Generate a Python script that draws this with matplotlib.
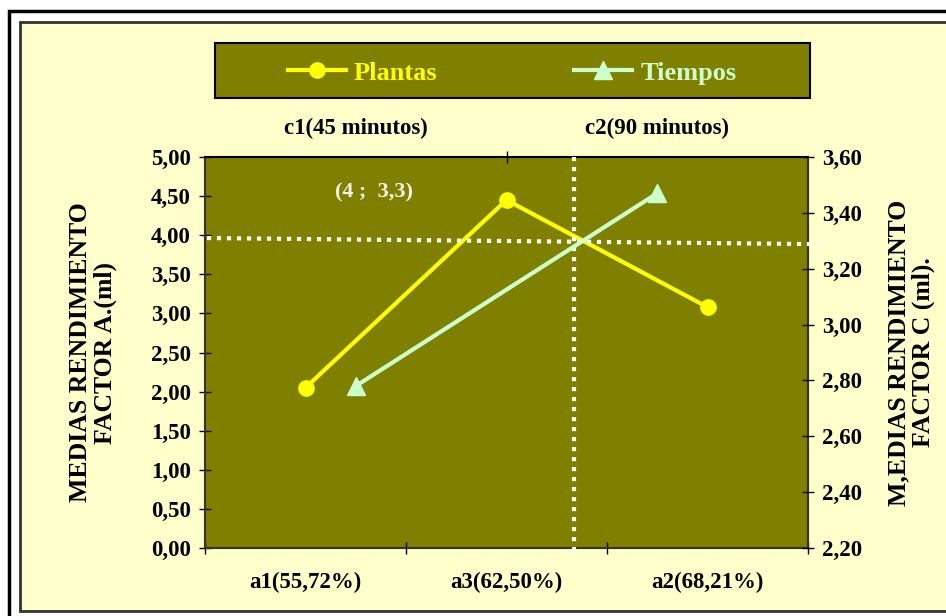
import matplotlib
matplotlib.use("Agg")
import matplotlib.pyplot as plt
from matplotlib.patches import Rectangle
from matplotlib.lines import Line2D
from matplotlib.ticker import FixedLocator, FuncFormatter

plt.rcParams["font.family"] = ["Liberation Serif", "DejaVu Serif"]
plt.rcParams["font.weight"] = "bold"
plt.rcParams["axes.labelweight"] = "bold"

# ---------- datos ----------
categorias_a = ["a1(55,72%)", "a3(62,50%)", "a2(68,21%)"]
plantas = [2.05, 4.45, 3.08]
categorias_c = ["c1(45 minutos)", "c2(90 minutos)"]
tiempos = [2.78, 3.47]
ticks_izq = [0, 0.5, 1, 1.5, 2, 2.5, 3, 3.5, 4, 4.5, 5]
ticks_der = [2.2, 2.4, 2.6, 2.8, 3.0, 3.2, 3.4, 3.6]
punto_corte = "(4 ;  3,3)"

OLIVA = "#808000"
FONDO = "#FFFFCC"
AMARILLO = "#FFFF00"
VERDE = "#CCFFCC"

W, H = 946, 616
fig = plt.figure(figsize=(W / 100, H / 100), dpi=100)
fig.patch.set_facecolor("white")


def box(x0, y0, x1, y1):
    # pixel box (top-left origin) -> figure fraction rect
    return [x0 / W, 1 - y1 / H, (x1 - x0) / W, (y1 - y0) / H]


def coma(v, p):
    return f"{v:.2f}".replace(".", ",")


# marcos exteriores
fig.patches.append(Rectangle((9 / W, -0.1), 1.2, 1 - 11 / H + 0.1, transform=fig.transFigure,
                             facecolor="white", edgecolor="black", lw=2.5, zorder=-3))
fig.patches.append(Rectangle((20 / W, 1 - 611 / H), 1.2, (611 - 22) / H, transform=fig.transFigure,
                             facecolor=FONDO, edgecolor="#333333", lw=2, zorder=-2))

# ejes principales (factor A)
ax = fig.add_axes(box(205, 157, 808, 548))
ax.set_facecolor(OLIVA)
x_a = list(range(len(categorias_a)))
ax.plot(x_a, plantas, color=AMARILLO, lw=3, marker="o", ms=11, zorder=3)
ax.set_xlim(-0.5, len(categorias_a) - 0.5)
ax.set_ylim(0, 5)
ax.yaxis.set_major_locator(FixedLocator(ticks_izq))
ax.yaxis.set_major_formatter(FuncFormatter(coma))
ax.set_xticks(x_a)
ax.set_xticklabels(categorias_a)
ax.set_xticks([i - 0.5 for i in range(len(categorias_a) + 1)], minor=True)
ax.tick_params(axis="x", which="major", length=0, pad=17, labelsize=16.5)
ax.tick_params(axis="x", which="minor", direction="inout", length=8, width=1)
ax.tick_params(axis="y", direction="inout", length=8, width=1, pad=6, labelsize=16.5)
for s in ax.spines.values():
    s.set_color("#333333")
    s.set_linewidth(1.5)
ax.spines["top"].set_color("black")
ax.set_ylabel("MEDIAS RENDIMIENTO\nFACTOR A.(ml)", fontsize=18.5, linespacing=1.1)
ax.yaxis.set_label_coords(-0.146, 0.5)

# ejes secundarios (factor C)
ax2 = fig.add_axes(box(205, 157, 808, 548), frameon=False)
ax2.patch.set_visible(False)
x_c = list(range(len(categorias_c)))
ax2.plot(x_c, tiempos, color=VERDE, lw=3, marker="^", ms=13, zorder=3)
ax2.set_xlim(-0.5, len(categorias_c) - 0.5)
ax2.set_ylim(2.2, 3.6)
ax2.xaxis.tick_top()
ax2.xaxis.set_label_position("top")
ax2.yaxis.tick_right()
ax2.yaxis.set_label_position("right")
ax2.yaxis.set_major_locator(FixedLocator(ticks_der))
ax2.yaxis.set_major_formatter(FuncFormatter(coma))
ax2.set_xticks(x_c)
ax2.set_xticklabels(categorias_c)
ax2.set_xticks([0.5], minor=True)
ax2.tick_params(axis="x", which="major", length=0, pad=13, labelsize=16.5)
ax2.tick_params(axis="x", which="minor", direction="inout", length=8, width=1)
ax2.tick_params(axis="y", direction="inout", length=8, width=1, pad=6, labelsize=16.5)
ax2.set_ylabel("M,EDIAS RENDIMIENTO\nFACTOR C (ml).", fontsize=18.5, linespacing=1.1, rotation=90)
ax2.yaxis.set_label_coords(1.131, 0.5)

# lineas punteadas de corte
ax.plot([-0.54, 2.575], [3.965, 3.885], color="white", lw=3, ls=(0, (1, 1.4)),
        solid_capstyle="butt", clip_on=False, zorder=5)
ax.plot([1.338, 1.338], [5.13, -0.05], color="white", lw=3, ls=(0, (1, 1.4)),
        solid_capstyle="butt", clip_on=False, zorder=5)
ax.text(0.34, 4.54, punto_corte, color="#F2F2E6", fontsize=16, ha="center", va="center")

# leyenda
fig.patches.append(Rectangle((215 / W, 1 - 98 / H), 595 / W, 55 / H, transform=fig.transFigure,
                             facecolor=OLIVA, edgecolor="black", lw=1.5, zorder=1))
handles = [Line2D([], [], color=AMARILLO, lw=3, marker="o", ms=11),
           Line2D([], [], color=VERDE, lw=3, marker="^", ms=13)]
leg = fig.legend(handles, ["Plantas", "Tiempos"], loc="center", bbox_to_anchor=(512 / W, 1 - 73 / H),
                 ncol=2, frameon=False, fontsize=19, handlelength=2.2, handletextpad=0.3,
                 columnspacing=5.2)
for t, c in zip(leg.get_texts(), [AMARILLO, VERDE]):
    t.set_color(c)

fig.savefig("out.png", dpi=100)
